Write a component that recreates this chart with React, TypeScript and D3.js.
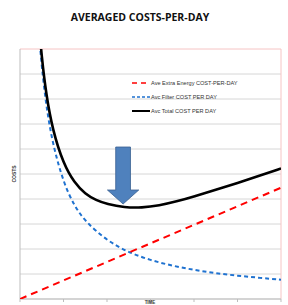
import React from 'react';
import * as d3 from 'd3';

// time positions (x axis has 6 unlabeled intervals)
const timeTicks = [0, 1, 2, 3, 4, 5, 6];
const costTicks = [0, 1, 2, 3, 4, 5, 6, 7, 8, 9, 10];

// values
const energyT = [0, 6];
const energyCost = [0, 4.45];

const filterT = [0.4, 0.45, 0.5, 0.6, 0.75, 1, 1.25, 1.5, 2, 2.5, 3, 3.5, 4, 4.5, 5, 5.5, 6];
const filterCost = [11.6, 10.3, 9.3, 7.75, 6.2, 4.65, 3.72, 3.1, 2.33, 1.86, 1.55, 1.33, 1.16, 1.03, 0.93, 0.85, 0.77];

const totalT = [0.42, 0.5, 0.6, 0.75, 1, 1.25, 1.5, 1.75, 2, 2.4, 2.8, 3.2, 3.6, 4, 4.5, 5, 5.5, 6];
const totalCost = [11.3, 9.65, 8.2, 6.75, 5.4, 4.65, 4.2, 3.95, 3.8, 3.66, 3.65, 3.74, 3.9, 4.1, 4.37, 4.64, 4.93, 5.22];

const legendLabels = ['Ave Extra Energy COST-PER-DAY', 'Avc Filter COST PER DAY', 'Avc Total COST PER DAY'];

// arrow annotation in data units
const arrowT = 2.37;
const arrowTop = 6.08;
const arrowShaftEnd = 4.36;
const arrowTip = 3.8;
const arrowShaftHalf = 0.17;
const arrowHeadHalf = 0.36;

export default function App() {
  const width = 288;
  const height = 305;
  const left = 20, right = 281, top = 49, bottom = 299;

  const x = d3.scaleLinear().domain([0, 6]).range([left, right]);
  const y = d3.scaleLinear().domain([0, 10]).range([bottom, top]);

  const line = d3.line<[number, number]>()
    .x(d => x(d[0]))
    .y(d => y(d[1]))
    .curve(d3.curveBasis);

  const energy = line(energyT.map((t, i) => [t, energyCost[i]]));
  const filter = line(filterT.map((t, i) => [t, filterCost[i]]));
  const total = line(totalT.map((t, i) => [t, totalCost[i]]));

  const arrowPts: [number, number][] = [
    [arrowT - arrowShaftHalf, arrowTop],
    [arrowT + arrowShaftHalf, arrowTop],
    [arrowT + arrowShaftHalf, arrowShaftEnd],
    [arrowT + arrowHeadHalf, arrowShaftEnd],
    [arrowT, arrowTip],
    [arrowT - arrowHeadHalf, arrowShaftEnd],
    [arrowT - arrowShaftHalf, arrowShaftEnd],
  ];
  const arrow = 'M' + arrowPts.map(p => `${x(p[0])},${y(p[1])}`).join('L') + 'Z';

  const legendStyles = [
    { stroke: '#ff0000', dash: '5,4', w: 1.5 },
    { stroke: '#1f72d0', dash: '3,2', w: 1.5 },
    { stroke: '#000000', dash: null, w: 2 },
  ];

  return (
    <div style={{ position: 'fixed', left: 0, top: 0 }}>
      <svg width={width} height={height} style={{ display: 'block', background: '#fff' }}>
        <defs>
          <clipPath id="plot">
            <rect x={left} y={top} width={right - left} height={bottom - top} />
          </clipPath>
        </defs>
        <text x={140} y={21} textAnchor="middle" fontFamily="'Open Sans', 'Liberation Sans', sans-serif"
          fontWeight="bold" fontSize={10.5} fill="#111">AVERAGED COSTS-PER-DAY</text>

        {costTicks.map(c => (
          <line key={c} x1={left} x2={right} y1={y(c)} y2={y(c)}
            stroke={c === 10 ? '#f6c4c4' : '#d6d6d6'} strokeWidth={1} />
        ))}
        <line x1={right} x2={right} y1={top} y2={bottom} stroke="#f6c4c4" strokeWidth={1} />
        <line x1={left} x2={left} y1={top} y2={bottom} stroke="#bdbdbd" strokeWidth={1} />
        <line x1={left} x2={right} y1={bottom} y2={bottom} stroke="#bdbdbd" strokeWidth={1} />
        {timeTicks.map(t => (
          <line key={t} x1={x(t)} x2={x(t)} y1={bottom} y2={bottom + 3} stroke="#bdbdbd" strokeWidth={1} />
        ))}

        <g clipPath="url(#plot)" fill="none">
          <path d={filter!} stroke="#1f72d0" strokeWidth={2} strokeDasharray="4,3" />
          <path d={energy!} stroke="#ff0000" strokeWidth={2} strokeDasharray="7,5" />
          <path d={total!} stroke="#000" strokeWidth={2.6} />
        </g>

        <path d={arrow} fill="#4f81bd" stroke="#3a6192" strokeWidth={0.8} />

        {legendLabels.map((l, i) => {
          const ly = [83, 97, 111][i];
          const s = legendStyles[i];
          return (
            <g key={l}>
              <line x1={132} x2={150} y1={ly} y2={ly} stroke={s.stroke} strokeWidth={s.w}
                strokeDasharray={s.dash || undefined} />
              <text x={151} y={ly + 2} fontFamily="'Liberation Sans', Arial, sans-serif" fontSize={5.6} fill="#333">{l}</text>
            </g>
          );
        })}

        <text transform={`translate(16,${174}) rotate(-90)`} textAnchor="middle"
          fontFamily="'Liberation Sans', Arial, sans-serif" fontSize={5} fontWeight="bold" fill="#333">COSTS</text>
        <text x={150} y={304} textAnchor="middle" fontFamily="'Liberation Sans', Arial, sans-serif"
          fontSize={4.5} fontWeight="bold" fill="#333">TIME</text>
      </svg>
    </div>
  );
}
